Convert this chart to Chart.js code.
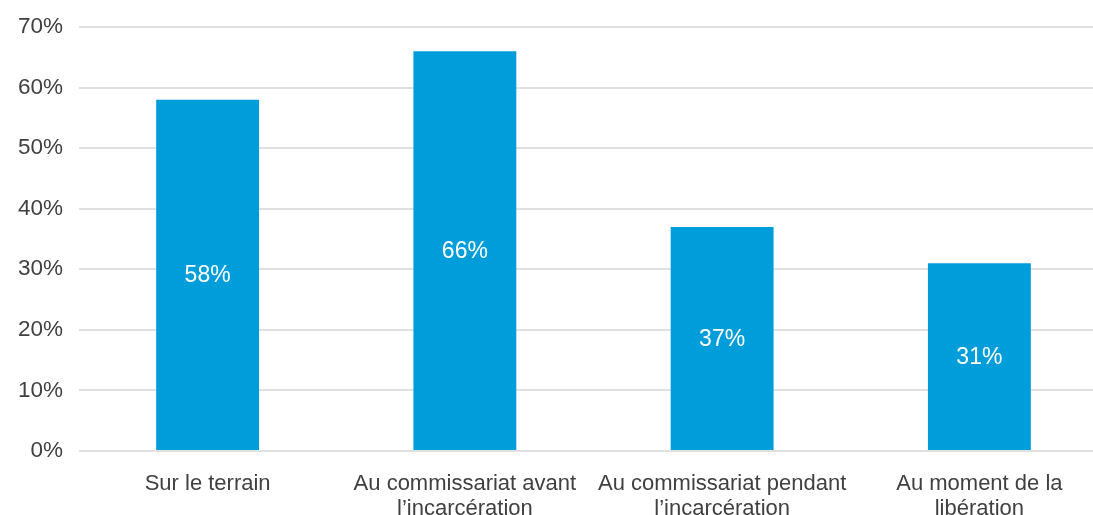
<!DOCTYPE html>
<html>
<head>
<meta charset="utf-8">
<script src="https://cdn.jsdelivr.net/npm/chart.js@4"></script>
<style>
html,body{margin:0;padding:0;background:#fff;overflow:hidden;}
#wrap{width:1108px;height:515px;}
</style>
</head>
<body>
<div id="wrap"><canvas id="c"></canvas></div>
<script>
const categories = [
  ["Sur le terrain"],
  ["Au commissariat avant", "l’incarcération"],
  ["Au commissariat pendant", "l’incarcération"],
  ["Au moment de la", "libération"]
];
const values = [58, 66, 37, 31];
const yTicks = [0, 10, 20, 30, 40, 50, 60, 70];

const FONT = "'Liberation Sans', Arial, Helvetica, sans-serif";

const labelPlugin = {
  id: 'barLabels',
  afterDatasetsDraw(chart) {
    const ctx = chart.ctx;
    const meta = chart.getDatasetMeta(0);
    ctx.save();
    ctx.fillStyle = '#ffffff';
    ctx.font = '23px ' + FONT;
    ctx.textAlign = 'center';
    ctx.textBaseline = 'middle';
    meta.data.forEach((bar, i) => {
      const p = bar.getProps(['x', 'y', 'base'], true);
      ctx.fillText(values[i] + '%', p.x, (p.y + p.base) / 2 + 1);
    });
    ctx.restore();
  }
};

new Chart(document.getElementById('c'), {
  type: 'bar',
  data: {
    labels: categories,
    datasets: [{
      data: values,
      backgroundColor: '#009ddb',
      borderWidth: 0,
      barPercentage: 0.4,
      categoryPercentage: 1.0
    }]
  },
  options: {
    responsive: true,
    maintainAspectRatio: false,
    animation: false,
    devicePixelRatio: 1,
    layout: { padding: { top: 27, bottom: 0, left: 0, right: 0 } },
    plugins: { legend: { display: false }, tooltip: { enabled: false } },
    scales: {
      x: {
        afterFit(axis) { axis.height = 64; },
        grid: { display: false },
        border: { display: false },
        ticks: {
          color: '#404040',
          font: { family: FONT, size: 22, lineHeight: 1.14 },
          padding: 12,
          maxRotation: 0,
          autoSkip: false
        }
      },
      y: {
        min: 0,
        max: 70,
        afterFit(axis) { axis.width = 79; axis.paddingTop = 0; axis.paddingBottom = 0; },
        afterBuildTicks(axis) { axis.ticks = yTicks.map(v => ({ value: v })); },
        grid: { color: '#e0e0e0', lineWidth: 2, drawTicks: false },
        border: { display: false },
        ticks: {
          color: '#404040',
          font: { family: FONT, size: 22.5, lineHeight: 1.2 },
          padding: 16,
          callback: v => v + '%'
        }
      }
    }
  },
  plugins: [labelPlugin]
});
</script>
</body>
</html>
